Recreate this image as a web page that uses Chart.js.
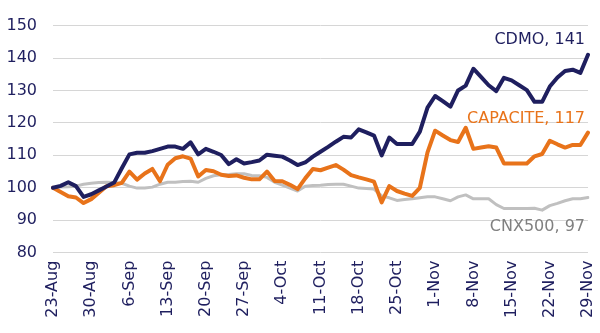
<!DOCTYPE html>
<html>
<head>
<meta charset="utf-8">
<title>CDMO vs CAPACITE vs CNX500</title>
<script src="https://cdn.jsdelivr.net/npm/chart.js@4/dist/chart.umd.min.js"></script>
<style>
  html, body { margin: 0; padding: 0; background: #fff; }
  #wrap { width: 600px; height: 333px; }
</style>
</head>
<body>
<div id="wrap"><canvas id="perf-chart"></canvas></div>
<script>
// trading days (Mon-Fri), every 5th one gets a tick label
const tradingDays = [
  '23-Aug', '24-Aug', '25-Aug', '26-Aug', '27-Aug',
  '30-Aug', '31-Aug', '1-Sep', '2-Sep', '3-Sep',
  '6-Sep', '7-Sep', '8-Sep', '9-Sep', '10-Sep',
  '13-Sep', '14-Sep', '15-Sep', '16-Sep', '17-Sep',
  '20-Sep', '21-Sep', '22-Sep', '23-Sep', '24-Sep',
  '27-Sep', '28-Sep', '29-Sep', '30-Sep', '1-Oct',
  '4-Oct', '5-Oct', '6-Oct', '7-Oct', '8-Oct',
  '11-Oct', '12-Oct', '13-Oct', '14-Oct', '15-Oct',
  '18-Oct', '19-Oct', '20-Oct', '21-Oct', '22-Oct',
  '25-Oct', '26-Oct', '27-Oct', '28-Oct', '29-Oct',
  '1-Nov', '2-Nov', '3-Nov', '4-Nov', '5-Nov',
  '8-Nov', '9-Nov', '10-Nov', '11-Nov', '12-Nov',
  '15-Nov', '16-Nov', '17-Nov', '18-Nov', '19-Nov',
  '22-Nov', '23-Nov', '24-Nov', '25-Nov', '26-Nov',
  '29-Nov'
];
const tickEvery = 5;

const seriesNames = ['CDMO', 'CAPACITE', 'CNX500'];

const cdmo = [
  100, 100.6, 101.7, 100.5, 97.2, 98, 99.2, 100.4, 101.6, 106,
  110.3, 110.8, 110.8, 111.3, 112, 112.7, 112.7, 112, 114, 110.3,
  112, 111.1, 110.1, 107.3, 108.8, 107.5, 107.9, 108.4, 110.2, 109.9,
  109.6, 108.4, 107, 107.8, 109.6, 111.1, 112.6, 114.2, 115.7, 115.5,
  118, 117.1, 116.1, 110, 115.5, 113.5, 113.5, 113.5, 117.3, 124.7,
  128.3, 126.7, 125, 130, 131.5, 136.7, 134.2, 131.6, 129.8, 133.9,
  133.1, 131.6, 130.1, 126.5, 126.5, 131.2, 134, 136, 136.4, 135.4,
  141
];

const capacite = [
  100, 98.7, 97.4, 97, 95.3, 96.5, 98.5, 100.5, 100.8, 101.5,
  105, 102.5, 104.4, 105.8, 102, 107.1, 109.1, 109.7, 109, 103.5,
  105.5, 105.1, 104, 103.6, 103.8, 103.1, 102.6, 102.6, 105, 102.1,
  102, 100.9, 99.6, 102.9, 105.8, 105.4, 106.2, 107, 105.6, 103.9,
  103.2, 102.6, 101.9, 95.5, 100.5, 99, 98.2, 97.5, 100, 110.9,
  117.6, 116.1, 114.7, 114.1, 118.5, 112, 112.4, 112.8, 112.4, 107.5,
  107.5, 107.5, 107.5, 109.7, 110.4, 114.5, 113.4, 112.4, 113.2, 113.2,
  117
];

const cnx500 = [
  100, 100.2, 100.3, 100.5, 101.1, 101.4, 101.6, 101.7, 101.6, 101.4,
  100.5, 99.9, 99.9, 100.2, 101.1, 101.7, 101.7, 101.9, 102, 101.7,
  102.9, 103.7, 104, 104.1, 104.3, 104.3, 103.8, 103.7, 103.2, 101.7,
  100.8, 99.9, 99, 100.5, 100.7, 100.8, 101, 101.1, 101.1, 100.5,
  99.9, 99.8, 99.6, 97.5, 96.9, 96.1, 96.4, 96.6, 96.9, 97.2,
  97.2, 96.6, 96, 97.2, 97.8, 96.6, 96.6, 96.6, 94.8, 93.6,
  93.6, 93.6, 93.6, 93.7, 93.1, 94.5, 95.2, 96, 96.6, 96.6,
  97
];

const yMin = 80;
const yMax = 150;
const yStep = 10;

const NAVY = '#1f1f5f';
const ORANGE = '#e8731a';
const GREY = '#c0c0c0';
const FONT = '"DejaVu Sans", sans-serif';

// label "NAME, last" drawn near the end of each line
const endLabels = {
  id: 'endLabels',
  afterDatasetsDraw(chart) {
    const ctx = chart.ctx;
    const area = chart.chartArea;
    ctx.save();
    ctx.font = '16px ' + FONT;
    ctx.textAlign = 'right';
    ctx.textBaseline = 'middle';
    chart.data.datasets.forEach(function (ds, i) {
      const meta = chart.getDatasetMeta(i);
      const last = meta.data[meta.data.length - 1];
      if (!last) return;
      const value = ds.data[ds.data.length - 1];
      ctx.fillStyle = ds.endLabelColor;
      ctx.fillText(ds.label + ', ' + Math.round(value), area.right - 3, last.y + ds.endLabelDy);
    });
    ctx.restore();
  }
};

new Chart(document.getElementById('perf-chart'), {
  type: 'line',
  data: {
    labels: tradingDays,
    datasets: [
      { label: seriesNames[0], data: cdmo, borderColor: NAVY, borderWidth: 4, endLabelColor: NAVY, endLabelDy: -15 },
      { label: seriesNames[1], data: capacite, borderColor: ORANGE, borderWidth: 4, endLabelColor: ORANGE, endLabelDy: -14 },
      { label: seriesNames[2], data: cnx500, borderColor: GREY, borderWidth: 3, endLabelColor: '#808080', endLabelDy: 29 }
    ]
  },
  options: {
    responsive: true,
    maintainAspectRatio: false,
    animation: false,
    layout: { padding: { left: 6, right: 12, top: 16, bottom: 7 } },
    elements: {
      point: { radius: 0, hoverRadius: 0 },
      line: { tension: 0, borderJoinStyle: 'round', borderCapStyle: 'round', fill: false }
    },
    plugins: {
      legend: { display: false },
      tooltip: { enabled: false }
    },
    scales: {
      x: {
        grid: { display: false, drawTicks: false },
        border: { display: false },
        afterFit: function (scale) {
          // rotated labels would otherwise push the plot inwards
          scale.paddingLeft = 0;
          scale.paddingRight = 0;
        },
        ticks: {
          autoSkip: false,
          minRotation: 90,
          maxRotation: 90,
          padding: 8,
          color: NAVY,
          font: { family: FONT, size: 16 },
          callback: function (val, index) {
            return index % tickEvery === 0 ? this.getLabelForValue(val) : null;
          }
        }
      },
      y: {
        min: yMin,
        max: yMax,
        grid: { color: '#d6d6d6', lineWidth: 1, drawTicks: false },
        border: { display: false },
        afterFit: function (scale) {
          scale.width = 47;
        },
        ticks: {
          stepSize: yStep,
          padding: 16,
          color: NAVY,
          font: { family: FONT, size: 16 }
        }
      }
    }
  },
  plugins: [endLabels]
});
</script>
</body>
</html>
